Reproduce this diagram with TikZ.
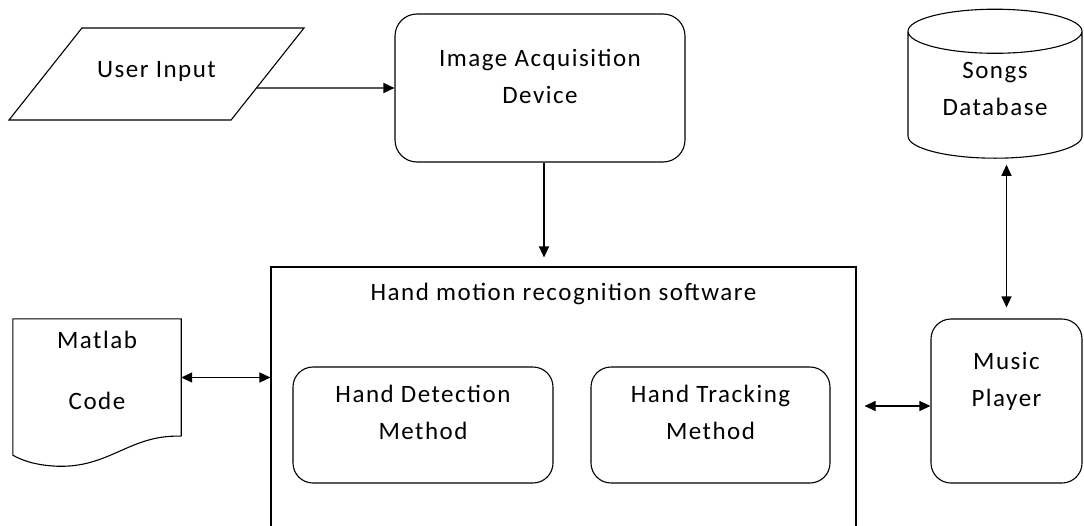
\documentclass[tikz,border=0pt]{standalone}
\usepackage{fontspec}
\setmainfont{Carlito}[LetterSpace=6]
\usetikzlibrary{positioning,arrows.meta,shapes.geometric,calc}
\tikzset{
block/.style={
draw,
rounded corners=20pt,
line width=1.1pt,
align=center,
inner sep=0pt
},
shapebox/.style={
draw,
line width=1.1pt,
align=center,
inner sep=0pt
},
arrow/.style={
-{Triangle[length=11pt,width=10pt]},
line width=1.1pt
},
darrow/.style={
{Triangle[length=11pt,width=10pt]}-{Triangle[length=11pt,width=10pt]},
line width=1.1pt
}
}

\begin{document}
\begin{tikzpicture}[x=1pt,y=-1pt,font=\fontsize{25}{37}\selectfont]
\path[use as bounding box,clip](0,0) rectangle (1084,525);

% inputs and sources
\node[shapebox,trapezium,trapezium left angle=51.6,trapezium right angle=128.4,trapezium stretches body,minimum width=295pt,text height=49pt,text depth=43pt](input) at (156.5,74){User Input};
\node[block,rounded corners=22pt,minimum width=290pt,minimum height=148pt,text depth=23pt](acq) at (540,88){Image Acquisition\\Device};
\node[shapebox,cylinder,shape border rotate=90,aspect=0.42,minimum width=174pt,minimum height=149pt,text depth=12pt](db) at (995,95){Songs\\Database};
\node[minimum width=168pt,minimum height=117pt,inner sep=0pt,align=center,text depth=14pt](matlab) at (97,377.5){Matlab\\[24pt]Code};
\draw[line width=1.1pt](matlab.south east)--(matlab.north east)--(matlab.north west)--($(matlab.south west)+(0,19)$)
  .. controls ($(matlab.south west)+(9,24)$) and ($(matlab.south west)+(22,29)$) .. ($(matlab.south west)+(44,30)$)
  .. controls ($(matlab.south west)+(97,32)$) and ($(matlab.south west)+(117,-2)$) .. (matlab.south east);

% software
\node[shapebox,minimum width=585pt,minimum height=293pt,label={[anchor=north,inner sep=0pt,yshift=-16pt]north:Hand motion recognition software}](soft) at (563.5,413.5){};
\node[block,minimum width=260pt,minimum height=116pt,text depth=25pt](det) at (423,425){Hand Detection\\Method};
\node[block,minimum width=239pt,minimum height=116pt,text depth=25pt](trk) at (710.5,425){Hand Tracking\\Method};
\node[block,minimum width=151pt,minimum height=164pt,text depth=43pt](player) at (1006.5,401){Music\\Player};

% connectors
\draw[arrow]($(input.bottom right corner)!0.35!(input.top right corner)$)--(acq.west);
\draw[arrow,shorten >=9pt]([xshift=4pt]acq.south)--([xshift=4pt]acq.south |- soft.north);
\draw[darrow](matlab.east)--(matlab.east -| soft.west);
\draw[darrow,shorten >=8pt]([yshift=-5pt]player.west)--([yshift=-5pt]player.west -| soft.east);
\draw[darrow,shorten <=6pt,shorten >=11pt](player.north |- db.south)--(player.north);
\end{tikzpicture}
\end{document}
